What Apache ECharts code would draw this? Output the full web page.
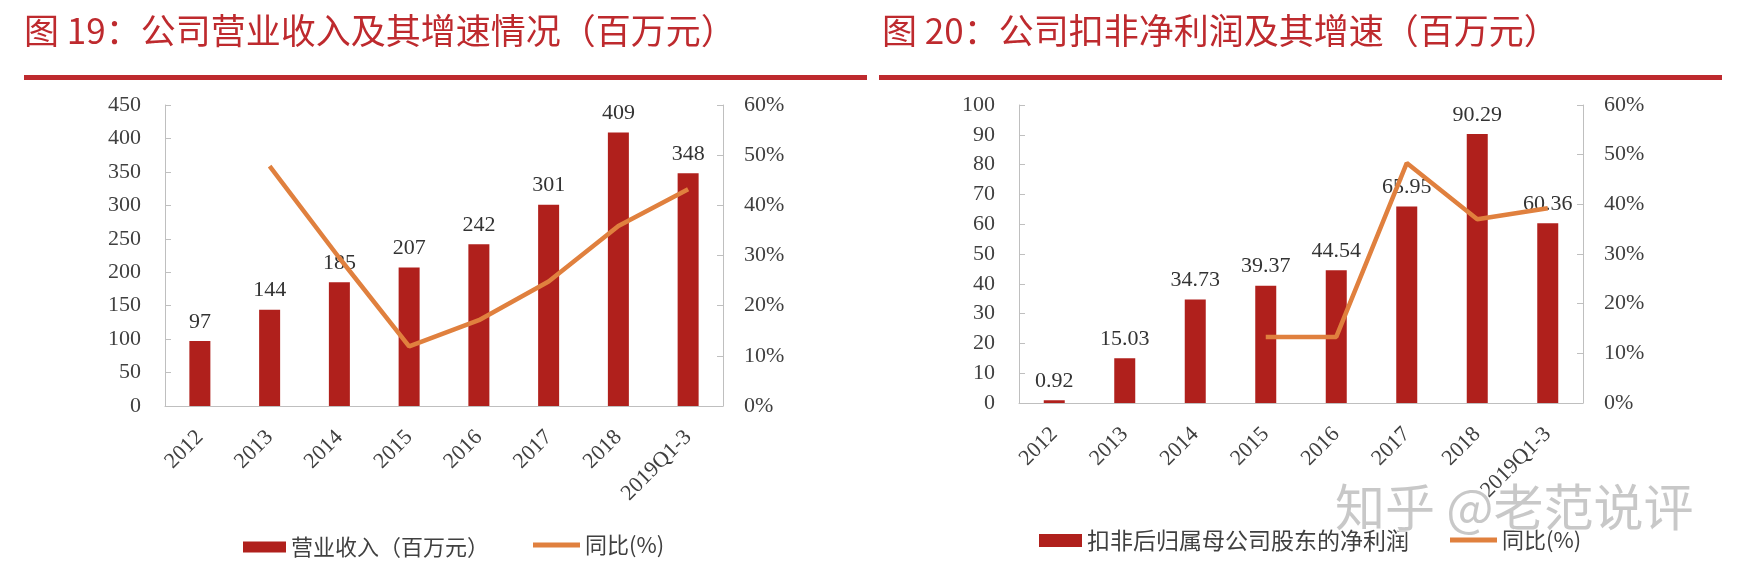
<!DOCTYPE html>
<html>
<head>
<meta charset="utf-8">
<script src="https://cdn.jsdelivr.net/npm/echarts@6/dist/echarts.min.js"></script>
<style>
html,body{margin:0;padding:0;background:#fff;}
#chart{width:1744px;height:580px;}
</style>
</head>
<body>
<div id="chart"></div>
<script>
// ---- data ----
var categories = ['2012','2013','2014','2015','2016','2017','2018','2019Q1-3'];
var revenue = [97, 144, 185, 207, 242, 301, 409, 348];
var revenueYoY = [null, 47.8, 29.5, 11.9, 17.1, 24.8, 35.9, 43.2];
var netProfit = [0.92, 15.03, 34.73, 39.37, 44.54, 65.95, 90.29, 60.36];
var netProfitYoY = [null, null, null, 13.3, 13.3, 48.3, 37.0, 39.2];
var leftTitle = '图 19：公司营业收入及其增速情况（百万元）';
var rightTitle = '图 20：公司扣非净利润及其增速（百万元）';
var revenueName = '营业收入（百万元）';
var profitName = '扣非后归属母公司股东的净利润';
var yoyName = '同比(%)';
var watermark = '知乎 @老范说评';

var BAR = '#b0201c', LINE = '#e0803e', RED = '#be2a2e', AX = '#bfbfbf', TXT = '#404040';
var serif = 'Liberation Serif', cjk = 'Noto Sans CJK SC';

function valAxis(gi, pos, min, max, interval, fmt) {
  return {
    type: 'value', gridIndex: gi, position: pos, min: min, max: max, interval: interval,
    splitLine: {show: false},
    axisLine: {show: true, lineStyle: {color: AX, width: 1}},
    axisTick: {show: true, inside: true, length: 6, lineStyle: {color: AX}},
    axisLabel: {fontFamily: serif, fontSize: 22, color: TXT, margin: pos === 'left' ? 24 : 21, formatter: fmt}
  };
}
function catAxis(gi) {
  return {
    type: 'category', gridIndex: gi, data: categories,
    axisLine: {show: true, lineStyle: {color: AX, width: 1}},
    axisTick: {show: false},
    axisLabel: {rotate: 45, fontFamily: serif, fontSize: 22, color: TXT, margin: 28, interval: 0}
  };
}
function barLabel() {
  return {show: true, position: 'top', distance: 8, fontFamily: serif, fontSize: 22, color: '#333'};
}

var chart = echarts.init(document.getElementById('chart'), null, {renderer: 'canvas'});
chart.setOption({
  animation: false,
  backgroundColor: '#fff',
  grid: [
    {left: 165, top: 105, width: 558, height: 301},
    {left: 1019, top: 105, width: 564, height: 298}
  ],
  xAxis: [catAxis(0), catAxis(1)],
  yAxis: [
    valAxis(0, 'left', 0, 450, 50),
    valAxis(0, 'right', 0, 60, 10, '{value}%'),
    valAxis(1, 'left', 0, 100, 10),
    valAxis(1, 'right', 0, 60, 10, '{value}%')
  ],
  legend: [
    {left: 238, top: 531, itemWidth: 43, itemHeight: 11, itemGap: 0, data: [{name: revenueName, icon: 'rect'}],
     textStyle: {fontFamily: cjk, fontSize: 22, color: TXT}},
    {left: 528, top: 529, itemWidth: 47, itemHeight: 5, data: [{name: yoyName, icon: 'rect'}],
     textStyle: {fontFamily: cjk, fontSize: 22, color: TXT}},
    {left: 1034, top: 524, itemWidth: 43, itemHeight: 13, data: [{name: profitName, icon: 'rect'}],
     textStyle: {fontFamily: cjk, fontSize: 23, color: TXT}},
    {left: 1445, top: 524, itemWidth: 47, itemHeight: 5, data: [{name: yoyName, icon: 'rect'}],
     textStyle: {fontFamily: cjk, fontSize: 22, color: TXT}}
  ],
  series: [
    {name: revenueName, type: 'bar', xAxisIndex: 0, yAxisIndex: 0, data: revenue, barWidth: 21,
     itemStyle: {color: BAR}, label: barLabel(), z: 2},
    {name: yoyName, type: 'line', xAxisIndex: 0, yAxisIndex: 1, data: revenueYoY, color: LINE,
     showSymbol: false, symbol: 'none', lineStyle: {color: LINE, width: 4.5}, z: 5, connectNulls: false},
    {name: profitName, type: 'bar', xAxisIndex: 1, yAxisIndex: 2, data: netProfit, barWidth: 21,
     itemStyle: {color: BAR}, label: barLabel(), z: 2},
    {name: yoyName, type: 'line', xAxisIndex: 1, yAxisIndex: 3, data: netProfitYoY, color: LINE,
     showSymbol: false, symbol: 'none', lineStyle: {color: LINE, width: 4.5}, z: 5}
  ],
  graphic: [
    {type: 'text', left: 24, top: 13, style: {text: leftTitle, font: '35px "Noto Sans CJK SC"', fill: RED}},
    {type: 'text', left: 882, top: 13, style: {text: rightTitle, font: '35px "Noto Sans CJK SC"', fill: RED}},
    {type: 'rect', shape: {x: 24, y: 75, width: 843, height: 5}, style: {fill: RED}},
    {type: 'rect', shape: {x: 879, y: 75, width: 843, height: 5}, style: {fill: RED}},
    {type: 'text', left: 1334, top: 481, z: 100,
     style: {text: watermark, font: '50px "Noto Sans CJK SC"', fill: 'rgba(190,190,190,0.85)', stroke: '#ffffff', lineWidth: 2}}
  ]
});
</script>
</body>
</html>
